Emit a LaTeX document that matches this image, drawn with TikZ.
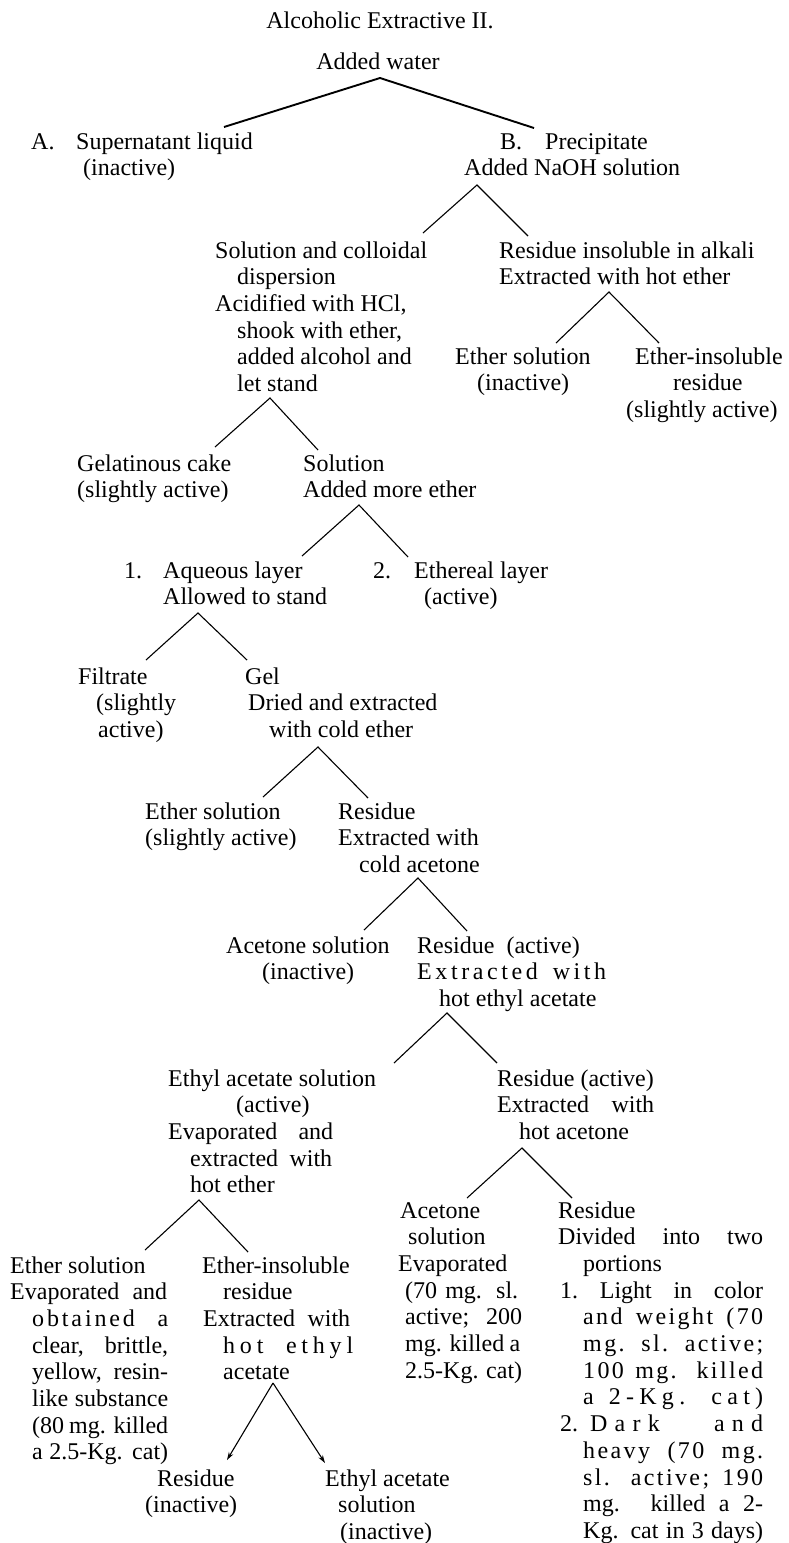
\documentclass[tikz,border=0pt]{standalone}
\usepackage{fontspec}
\setmainfont{Liberation Serif}
\usetikzlibrary{arrows.meta}
\newcommand\tx{\fontsize{24pt}{26.7pt}\selectfont}
\newcommand\rows[1]{\vtop{\tx #1}}
\newcommand\rw[1]{\hbox{#1}}
\newcommand\jst[2]{\makebox[#1pt][s]{#2}}
\newcommand\lsp[3]{\makebox[#1pt][s]{\addfontfeature{LetterSpace=#2}#3}}
\begin{document}
\begin{tikzpicture}[x=1pt,y=-1pt,
  txt/.style={anchor=base west,inner sep=0pt},
  ctr/.style={anchor=base,inner sep=0pt,font=\tx},
  br/.style={line width=1.1pt},
  thk/.style={line width=1.9pt},
  arr/.style={line width=1.1pt,-{Stealth[length=8pt,width=5pt]}}]
\useasboundingbox (0,0) rectangle (789,1543);

% ---------- text nodes ----------
\node[ctr] (title) at (380,28) {Alcoholic Extractive II.};
\node[ctr] (water) at (378,69) {Added water};
\node[txt] (A) at (31,149) {\rows{\rw{\makebox[45pt][l]{A.}Supernatant liquid}\rw{\hspace*{52pt}(inactive)}}};
\node[txt] (B) at (464,149) {\rows{\rw{\hspace*{36pt}\makebox[45pt][l]{B.}Precipitate}\rw{Added NaOH solution}}};
\node[txt] (sol) at (215,258) {\rows{\rw{Solution and colloidal}\rw{\hspace*{22pt}dispersion}\rw{Acidified with HCl,}\rw{\hspace*{22pt}shook with ether,}\rw{\hspace*{22pt}added alcohol and}\rw{\hspace*{22pt}let stand}}};
\node[txt] (ria) at (499,258) {\rows{\rw{Residue insoluble in alkali}\rw{Extracted with hot ether}}};
\node[txt] (es1) at (455,364) {\rows{\rw{Ether solution}\rw{\hspace*{22pt}(inactive)}}};
\node[txt] (ei1) at (626,364) {\rows{\rw{\hspace*{9pt}Ether-insoluble}\rw{\hspace*{47pt}residue}\rw{(slightly active)}}};
\node[txt] (gc) at (77,471) {\rows{\rw{Gelatinous cake}\rw{(slightly active)}}};
\node[txt] (so2) at (303,471) {\rows{\rw{Solution}\rw{Added more ether}}};
\node[txt] (aq) at (124,578) {\rows{\rw{\makebox[39pt][l]{1.}Aqueous layer}\rw{\hspace*{39pt}Allowed to stand}}};
\node[txt] (et) at (373,578) {\rows{\rw{\makebox[41pt][l]{2.}Ethereal layer}\rw{\hspace*{51pt}(active)}}};
\node[txt] (fi) at (78,684) {\rows{\rw{Filtrate}\rw{\hspace*{18pt}(slightly}\rw{\hspace*{20pt}active)}}};
\node[txt] (gel) at (245,684) {\rows{\rw{Gel}\rw{\hspace*{3pt}Dried and extracted}\rw{\hspace*{24pt}with cold ether}}};
\node[txt] (es2) at (145,819) {\rows{\rw{Ether solution}\rw{(slightly active)}}};
\node[txt] (re2) at (338,819) {\rows{\rw{Residue}\rw{Extracted with}\rw{\hspace*{21pt}cold acetone}}};
\node[txt] (ac1) at (226,953) {\rows{\rw{Acetone solution}\rw{\hspace*{36pt}(inactive)}}};
\node[txt] (re3) at (417,953) {\rows{\rw{Residue\hspace{6pt} (active)}\rw{\lsp{189}{15}{Extracted with}}\rw{\hspace*{22pt}hot ethyl acetate}}};
\node[txt] (eas) at (168,1086) {\rows{\rw{Ethyl acetate solution}\rw{\hspace*{68pt}(active)}\rw{\jst{165}{Evaporated and}}\rw{\hspace*{22pt}\jst{142}{extracted with}}\rw{\hspace*{22pt}hot ether}}};
\node[txt] (re4) at (497,1086) {\rows{\rw{Residue (active)}\rw{\jst{157}{Extracted with}}\rw{\hspace*{22pt}hot acetone}}};
\node[txt] (es3) at (10,1273) {\rows{\rw{Ether solution}\rw{\jst{157}{Evaporated and}}\rw{\hspace*{22pt}\lsp{136}{12}{obtained a}}\rw{\hspace*{22pt}\jst{136}{clear, brittle,}}\rw{\hspace*{22pt}\jst{136}{yellow, resin-}}\rw{\hspace*{22pt}\jst{136}{like substance}}\rw{\hspace*{22pt}\jst{136}{(80 mg. killed}}\rw{\hspace*{22pt}\jst{136}{a 2.5-Kg. cat)}}}};
\node[txt] (ei2) at (202,1273) {\rows{\rw{Ether-insoluble}\rw{\hspace*{21pt}residue}\rw{\hspace*{1pt}\jst{147}{Extracted with}}\rw{\hspace*{21pt}\lsp{130}{20}{hot ethyl}}\rw{\hspace*{21pt}acetate}}};
\node[txt] (ac2) at (398,1218) {\rows{\rw{\hspace*{2pt}Acetone}\rw{\hspace*{10pt}solution}\rw{Evaporated}\rw{\hspace*{7pt}\jst{113}{(70 mg. sl.}}\rw{\hspace*{7pt}\jst{117}{active; 200}}\rw{\hspace*{7pt}\jst{115}{mg. killed a}}\rw{\hspace*{7pt}\jst{117}{2.5-Kg. cat)}}}};
\node[txt] (re5) at (558,1218) {\rows{\rw{Residue}\rw{\jst{205}{Divided into two}}\rw{\hspace*{25pt}portions}\rw{\hspace*{2pt}\jst{203}{1.\ Light in color}}\rw{\hspace*{25pt}\lsp{180}{10}{and weight (70}}\rw{\hspace*{25pt}\lsp{180}{10}{mg. sl. active;}}\rw{\hspace*{25pt}\lsp{180}{10}{100 mg. killed}}\rw{\hspace*{25pt}\lsp{180}{22}{a 2-Kg. cat)}}\rw{\hspace*{2pt}\makebox[30pt][l]{2.}\lsp{173}{30}{Dark and}}\rw{\hspace*{25pt}\lsp{180}{10}{heavy (70 mg.}}\rw{\hspace*{25pt}\lsp{180}{10}{sl. active; 190}}\rw{\hspace*{25pt}\jst{180}{mg. killed a 2-}}\rw{\hspace*{25pt}\jst{180}{Kg. cat in 3 days)}}}};
\node[txt] (re6) at (145,1486) {\rows{\rw{\hspace*{12pt}Residue}\rw{(inactive)}}};
\node[txt] (eas2) at (325,1486) {\rows{\rw{Ethyl acetate}\rw{\hspace*{13pt}solution}\rw{\hspace*{15pt}(inactive)}}};

% ---------- split points ----------
\coordinate (s1) at (380,78);   \coordinate (s1l) at (224,127);  \coordinate (s1r) at (534,128);
\coordinate (s2) at (477,185);  \coordinate (s2l) at (423,233);  \coordinate (s2r) at (528,236);
\coordinate (s3) at (609,292);  \coordinate (s3l) at (556,343);  \coordinate (s3r) at (659,343);
\coordinate (s4) at (270,398);  \coordinate (s4l) at (215,447);  \coordinate (s4r) at (318,450);
\coordinate (s5) at (359,505);  \coordinate (s5l) at (302,556);  \coordinate (s5r) at (408,557);
\coordinate (s6) at (198,613);  \coordinate (s6l) at (146,660);  \coordinate (s6r) at (247,660);
\coordinate (s7) at (318,747);  \coordinate (s7l) at (263,797);  \coordinate (s7r) at (368,798);
\coordinate (s8) at (418,878);  \coordinate (s8l) at (364,930);  \coordinate (s8r) at (467,931);
\coordinate (s9) at (447,1013); \coordinate (s9l) at (394,1063); \coordinate (s9r) at (497,1063);
\coordinate (s10) at (199,1200); \coordinate (s10l) at (145,1250); \coordinate (s10r) at (248,1252);
\coordinate (s11) at (522,1148); \coordinate (s11l) at (467,1198); \coordinate (s11r) at (572,1198);
\coordinate (s12) at (273,1383); \coordinate (s12l) at (227,1460); \coordinate (s12r) at (325,1463);

% ---------- connectors ----------
\draw[thk] (s1l) -- (s1) -- (s1r);
\foreach \s in {s2,s3,s4,s5,s6,s7,s8,s9,s10,s11}{
  \draw[br] (\s l) -- (\s) -- (\s r);
}
\draw[arr] (s12) -- (s12l);
\draw[arr] (s12) -- (s12r);
\end{tikzpicture}
\end{document}
